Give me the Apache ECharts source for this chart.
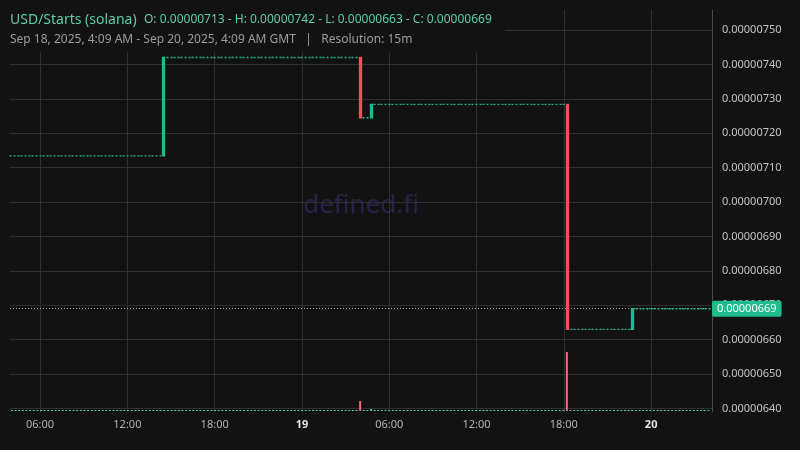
<!DOCTYPE html>
<html><head><meta charset="utf-8">
<script src="https://cdn.jsdelivr.net/npm/echarts@6/dist/echarts.min.js"></script>
<style>html,body{margin:0;padding:0;background:#121212;}#c{width:800px;height:450px;}</style>
</head><body><div id="c"></div>
<script>
const pairTitle = 'USD/Starts (solana)';
const ohlcSummary = 'O: 0.00000713 - H: 0.00000742 - L: 0.00000663 - C: 0.00000669';
const rangeText = 'Sep 18, 2025, 4:09 AM - Sep 20, 2025, 4:09 AM GMT   |   Resolution: 15m';
const watermarkText = 'defined.fi';

// Stretches with no trades (flat 15m candles): [first candle, last candle, price]
const flatRuns = [
  ['2025-09-18T04:00:00Z', '2025-09-18T14:15:00Z', 0.000007134],
  ['2025-09-18T14:45:00Z', '2025-09-19T03:45:00Z', 0.00000742],
  ['2025-09-19T04:15:00Z', '2025-09-19T04:30:00Z', 0.000007245],
  ['2025-09-19T05:00:00Z', '2025-09-19T18:00:00Z', 0.000007284],
  ['2025-09-19T18:30:00Z', '2025-09-19T22:30:00Z', 0.00000663],
  ['2025-09-19T23:00:00Z', '2025-09-20T04:00:00Z', 0.00000669]
];
// Candles with price movement: [time, open, close, low, high]
const moveCandles = [
  ['2025-09-18T14:30:00Z', 0.000007134, 0.00000742, 0.000007134, 0.00000742],
  ['2025-09-19T04:00:00Z', 0.00000742, 0.000007245, 0.000007245, 0.00000742],
  ['2025-09-19T04:45:00Z', 0.000007245, 0.000007284, 0.000007245, 0.000007284],
  ['2025-09-19T18:15:00Z', 0.000007284, 0.00000663, 0.00000663, 0.000007284],
  ['2025-09-19T22:45:00Z', 0.00000663, 0.00000669, 0.00000663, 0.00000669]
];
// Volume of the moving candles (relative units, flat candles have zero volume)
const moveVolumes = [0, 10, 2, 59, 0];
const lastClose = 0.00000669;

const STEP = 15 * 60 * 1000;
const candles = [];
const volumes = [];
flatRuns.forEach(([a, b, p]) => {
  for (let t = Date.parse(a); t <= Date.parse(b); t += STEP) {
    candles.push([t, p, p, p, p]);
    volumes.push([t, 0, 1]);
  }
});
moveCandles.forEach(([time, o, c, l, h], i) => {
  const t = Date.parse(time);
  candles.push([t, o, c, l, h]);
  volumes.push([t, moveVolumes[i], c >= o ? 1 : -1]);
});
candles.sort((a, b) => a[0] - b[0]);
volumes.sort((a, b) => a[0] - b[0]);
const lastCandle = candles[candles.length - 1];

const UP = '#22b893', DOWN = '#f0515a';
const xMin = Date.UTC(2025, 8, 18, 3, 56);
const xMax = Date.UTC(2025, 8, 20, 4, 11);
const pad = n => (n < 10 ? '0' : '') + n;
const FONT = 'Noto Sans';

const chart = echarts.init(document.getElementById('c'), null, {renderer: 'canvas'});
chart.setOption({
  backgroundColor: '#121212',
  animation: false,
  useUTC: true,
  textStyle: {fontFamily: FONT},
  grid: [
    {left: 10, right: 88, top: 10, bottom: 38, outerBoundsMode: 'none', containLabel: false},
    {left: 10, right: 88, bottom: 39, height: 100, outerBoundsMode: 'none', containLabel: false}
  ],
  xAxis: [{
    type: 'time', gridIndex: 0, min: xMin, max: xMax,
    minInterval: 6.5 * 3600 * 1000, maxInterval: 6.5 * 3600 * 1000,
    axisLine: {show: false}, axisTick: {show: false},
    splitLine: {show: true, showMinLine: false, showMaxLine: false, lineStyle: {color: '#2f2f2f', width: 1}},
    axisLabel: {
      showMinLabel: false, showMaxLabel: false, margin: 7, fontFamily: FONT,
      formatter: (val) => {
        const d = new Date(val);
        const h = d.getUTCHours(), m = d.getUTCMinutes();
        if (h === 0 && m === 0) return '{b|' + d.getUTCDate() + '}';
        return '{n|' + pad(h) + ':' + pad(m) + '}';
      },
      rich: {
        b: {fontWeight: 'bold', color: '#e4e4e4', fontSize: 11, fontFamily: FONT},
        n: {color: '#b4b4b4', fontSize: 11, fontFamily: FONT}
      }
    }
  }, {
    type: 'time', gridIndex: 1, min: xMin, max: xMax, show: false,
    splitLine: {show: false}
  }],
  yAxis: [{
    type: 'value', gridIndex: 0, position: 'right', scale: true,
    min: 0.00000639, max: 0.000007558,
    minInterval: 1e-7, maxInterval: 1e-7,
    axisLine: {show: true, lineStyle: {color: '#4a4a4a'}},
    axisTick: {show: false},
    splitLine: {show: true, showMinLine: false, showMaxLine: false, lineStyle: {color: '#2f2f2f', width: 1}},
    axisLabel: {
      showMinLabel: false, showMaxLabel: false,
      color: '#c4c4c4', fontSize: 11, margin: 10, fontFamily: FONT,
      formatter: v => v.toFixed(8)
    }
  }, {
    type: 'value', gridIndex: 1, min: 0, max: 100, show: false, splitLine: {show: false}
  }],
  graphic: [
    {type: 'text', z: -10, style: {
      text: watermarkText, x: 361, y: 206, align: 'center', verticalAlign: 'middle',
      font: '26px ' + FONT, fill: '#25234a'}},
    {type: 'rect', z: 100, shape: {x: 0, y: 9, width: 505, height: 43}, style: {fill: '#121212'}},
    {type: 'text', z: 101, style: {text: pairTitle, x: 10, y: 20, verticalAlign: 'middle',
      font: '14px ' + FONT, fill: '#5dcfa6'}},
    {type: 'text', z: 101, style: {text: ohlcSummary, x: 144, y: 20, verticalAlign: 'middle',
      font: '12px ' + FONT, fill: '#5dcfa6'}},
    {type: 'text', z: 101, style: {text: rangeText, x: 10, y: 40, verticalAlign: 'middle',
      font: '12px ' + FONT, fill: '#9c9c9c'}}
  ],
  series: [{
    type: 'candlestick', xAxisIndex: 0, yAxisIndex: 0,
    data: candles.map(c => [c[0], c[1], c[2], c[3], c[4]]),
    barWidth: 2.5,
    itemStyle: {color: UP, color0: DOWN, borderColor: UP, borderColor0: DOWN, borderWidth: 1.3}
  }, {
    // carries the last-price line
    type: 'line', xAxisIndex: 0, yAxisIndex: 0, z: 1,
    data: [[lastCandle[0], lastClose]],
    showSymbol: false, symbol: 'none', lineStyle: {opacity: 0},
    markLine: {
      symbol: ['none', 'none'], silent: true, animation: false, precision: 8, z: 1,
      data: [{yAxis: lastClose}],
      lineStyle: {color: '#a0a0a0', type: [1, 2], width: 1},
      label: {
        show: true, position: 'end', distance: 0, formatter: lastClose.toFixed(8),
        backgroundColor: '#1ebc8c', color: '#ffffff', fontSize: 11, fontFamily: FONT,
        padding: [3, 5, 2, 5], borderRadius: 2
      }
    }
  }, {
    type: 'bar', xAxisIndex: 1, yAxisIndex: 1,
    barWidth: 2, barMinHeight: 1,
    data: volumes.map(v => ({value: [v[0], v[1]], itemStyle: {color: v[2] > 0 ? '#55c9a6' : '#f06a7a'}}))
  }]
});
</script>
</body></html>
